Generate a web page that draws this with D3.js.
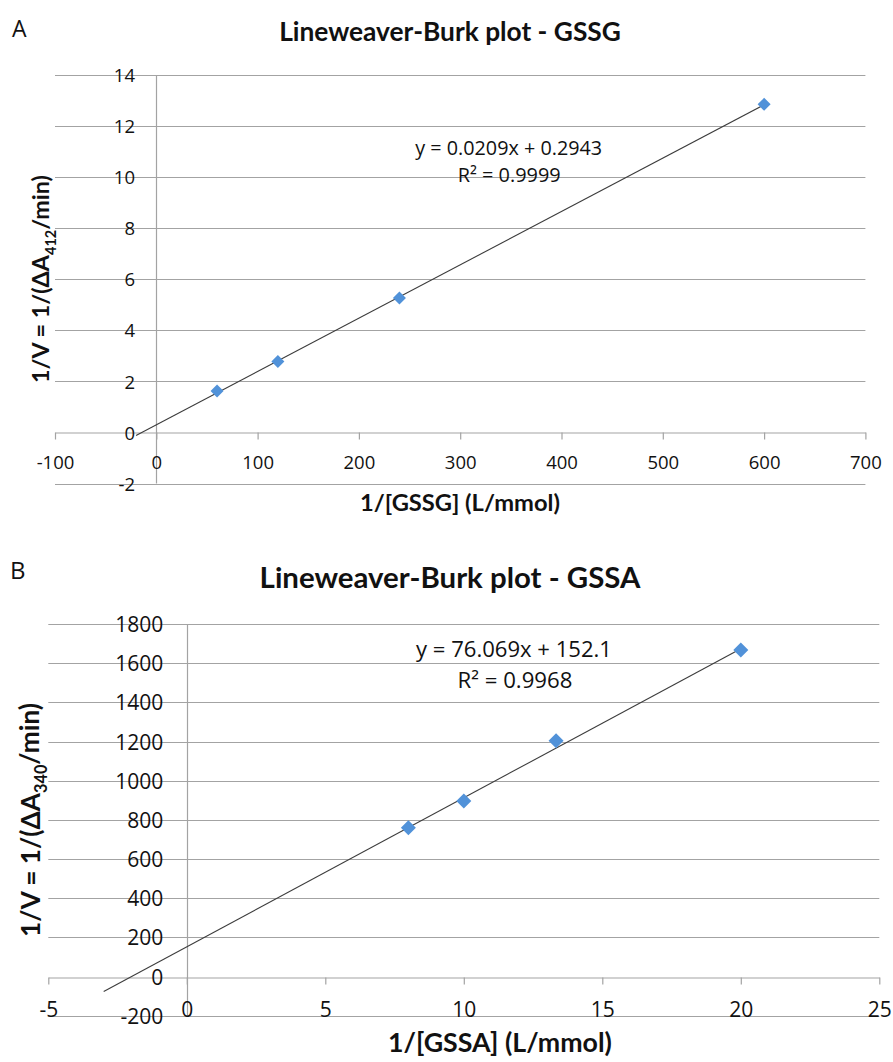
<!DOCTYPE html>
<html><head><meta charset="utf-8">
<script src="https://cdn.jsdelivr.net/npm/d3@7"></script>
<style>
body{margin:0;background:#fff}
svg{display:block}
text{font-family:Lato,"Open Sans",sans-serif;fill:#111}
</style>
</head><body>
<svg id="c" width="893" height="1062"></svg>
<script>
// ---- Data: panel A (GSSG) ----
const gssgX = [60, 120, 240, 600];
const gssgY = [1.62, 2.78, 5.27, 12.85];
const gssgXTicks = [-100, 0, 100, 200, 300, 400, 500, 600, 700];
const gssgYTicks = [-2, 0, 2, 4, 6, 8, 10, 12, 14];
const gssgFit = [0.0209, 0.2943];          // slope, intercept
const gssgFitRange = [-20, 600];
const gssgEq = ["y = 0.0209x + 0.2943", "R² = 0.9999"];

// ---- Data: panel B (GSSA) ----
const gssaX = [8, 10, 13.33, 20];
const gssaY = [760, 896, 1204, 1667];
const gssaXTicks = [-5, 0, 5, 10, 15, 20, 25];
const gssaYTicks = [-200, 0, 200, 400, 600, 800, 1000, 1200, 1400, 1600, 1800];
const gssaFit = [76.069, 152.1];
const gssaFitRange = [-3, 20];
const gssaEq = ["y = 76.069x + 152.1", "R² = 0.9968"];

const svg = d3.select("#c");
const GRID = "#a3a3a3";
const MARK = "#5192d9";
const SANS = "'Open Sans', Lato, sans-serif";

function fitText(sel, target) {
  const len = sel.node().getComputedTextLength();
  const fs = parseFloat(sel.attr("font-size"));
  sel.attr("font-size", fs * target / len);
}

function panel(o) {
  const g = svg.append("g");
  const x = d3.scaleLinear().domain(d3.extent(o.xTicks)).range(o.xRange);
  const y = d3.scaleLinear().domain(d3.extent(o.yTicks)).range(o.yRange);
  const fmt = d => String(d);

  g.selectAll("line.grid").data(o.yTicks.filter(v => v !== 0)).join("line")
    .attr("x1", x.range()[0]).attr("x2", x.range()[1])
    .attr("y1", d => Math.round(y(d)) + 0.5).attr("y2", d => Math.round(y(d)) + 0.5)
    .attr("stroke", GRID).attr("stroke-width", 1.2);

  g.append("line")
    .attr("x1", Math.round(x(0)) + 0.5).attr("x2", Math.round(x(0)) + 0.5)
    .attr("y1", y.range()[1]).attr("y2", y.range()[0])
    .attr("stroke", GRID).attr("stroke-width", 1.2);

  const xa = g.append("g").attr("transform", `translate(0,${Math.round(y(0)) + 0.5})`)
    .call(d3.axisBottom(x).tickValues(o.xTicks).tickSize(7).tickSizeOuter(0).tickFormat(fmt));
  xa.select(".domain").attr("stroke", GRID).attr("stroke-width", 1.2);
  xa.selectAll(".tick line").attr("stroke", GRID).attr("stroke-width", 1.2);
  xa.selectAll(".tick text")
    .attr("y", o.xLabelBaseline - Math.round(y(0)) - 0.5).attr("dy", null)
    .attr("font-size", o.tickSize).attr("fill", "#0a0a0a")
    .style("font-family", SANS);

  const ya = g.append("g").attr("transform", `translate(${o.yLabelRight},0)`)
    .call(d3.axisLeft(y).tickValues(o.yTicks).tickSize(0).tickPadding(0).tickFormat(fmt));
  ya.select(".domain").remove();
  ya.selectAll(".tick text").attr("dy", "0.36em").attr("font-size", o.tickSize).attr("fill", "#0a0a0a")
    .style("font-family", SANS);

  const [m, b] = o.fit;
  const line = d3.line().x(d => x(d)).y(d => y(m * d + b));
  g.append("path").datum(o.fitRange).attr("d", line)
    .attr("fill", "none").attr("stroke", "#3c3c3c").attr("stroke-width", 1.1);

  const pts = o.xs.map((v, i) => [v, o.ys[i]]);
  const sz = Math.pow(o.markW / 1.2525, 2);
  g.selectAll("path.pt").data(pts).join("path")
    .attr("d", d3.symbol(d3.symbolDiamond2, sz))
    .attr("transform", d => `translate(${x(d[0])},${y(d[1])})`)
    .attr("fill", MARK);

  o.eq.forEach((s, i) => {
    const e = g.append("text").attr("x", o.eqX[i]).attr("y", o.eqY[i]).attr("text-anchor", "middle")
      .attr("font-size", 17).style("font-family", SANS).text(s);
    fitText(e, o.eqW[i]);
  });

  const t = g.append("text").attr("x", o.titleX).attr("y", o.titleY).attr("text-anchor", "middle")
    .attr("font-weight", "bold").attr("font-size", 20).text(o.title);
  fitText(t, o.titleW);

  const xt = g.append("text").attr("x", o.xTitleX).attr("y", o.xTitleY).attr("text-anchor", "middle")
    .attr("font-weight", "bold").attr("font-size", 20).text(o.xTitle);
  fitText(xt, o.xTitleW);

  const yt = g.append("text")
    .attr("transform", `translate(${o.yTitleX},${o.yTitleY}) rotate(-90)`)
    .attr("text-anchor", "middle").attr("font-weight", "bold").attr("font-size", 20);
  yt.append("tspan").text("1/V = 1/(ΔA");
  yt.append("tspan").attr("font-size", "0.62em").attr("dy", "0.45em").text(o.sub);
  yt.append("tspan").attr("dy", "-0.28em").text("/min)");
  fitText(yt, o.yTitleW);

  g.append("text").attr("x", o.letterX).attr("y", o.letterY).attr("font-size", o.letterSize)
    .style("font-family", SANS).text(o.letter);
}

panel({
  xs: gssgX, ys: gssgY, xTicks: gssgXTicks, yTicks: gssgYTicks,
  fit: gssgFit, fitRange: gssgFitRange, eq: gssgEq,
  xRange: [55, 865.4], yRange: [483.5, 75],
  tickSize: 18.5, xLabelBaseline: 469, yLabelRight: 135,
  markW: 13,
  eqX: [508.7, 509.2], eqY: [155, 181.5], eqW: [187, 103],
  title: "Lineweaver-Burk plot - GSSG", titleX: 450, titleY: 41, titleW: 342,
  xTitle: "1/[GSSG] (L/mmol)", xTitleX: 460, xTitleY: 511, xTitleW: 200,
  sub: "412", yTitleX: 49, yTitleY: 279, yTitleW: 208,
  letter: "A", letterX: 12, letterY: 37, letterSize: 23
});

panel({
  xs: gssaX, ys: gssaY, xTicks: gssaXTicks, yTicks: gssaYTicks,
  fit: gssaFit, fitRange: gssaFitRange, eq: gssaEq,
  xRange: [48.3, 879.3], yRange: [1015.7, 624],
  tickSize: 21, xLabelBaseline: 1016.5, yLabelRight: 163.3,
  markW: 15,
  eqX: [514, 515], eqY: [656.7, 688.3], eqW: [196, 115],
  title: "Lineweaver-Burk plot - GSSA", titleX: 450, titleY: 588, titleW: 381,
  xTitle: "1/[GSSA] (L/mmol)", xTitleX: 500, xTitleY: 1052, xTitleW: 224,
  sub: "340", yTitleX: 39.5, yTitleY: 820, yTitleW: 234,
  letter: "B", letterX: 10, letterY: 579, letterSize: 24
});
</script>
</body></html>
